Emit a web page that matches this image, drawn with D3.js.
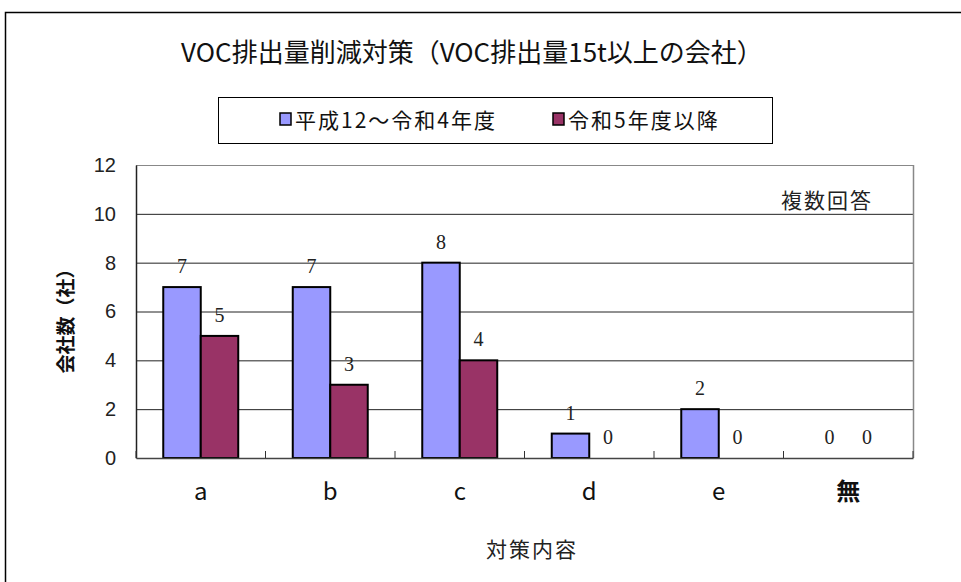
<!DOCTYPE html>
<html><head><meta charset="utf-8">
<script src="https://cdn.jsdelivr.net/npm/d3@7"></script>
<style>body{margin:0;background:#fff}svg{display:block}</style>
</head><body>
<script>
const categories = ["a","b","c","d","e","無"];
const seriesNames = ["平成12～令和4年度","令和5年度以降"];
const series1 = [7,7,8,1,2,0];
const series2 = [5,3,4,0,0,0];
const yTicks = [0,2,4,6,8,10,12];
const colors = ["#9999FF","#993366"];

const W = 961, H = 582;
const svg = d3.select("body").append("svg").attr("width",W).attr("height",H);
const jp = "'Noto Sans CJK JP', 'Liberation Sans', sans-serif";

// outer frame
svg.append("rect").attr("x",5.5).attr("y",12.5).attr("width",1000).attr("height",1000)
  .attr("fill","none").attr("stroke","#000").attr("stroke-width",1.5);

const m = {l:136, t:165, r:913, b:458};
const x = d3.scaleBand().domain(categories).range([m.l,m.r]).paddingInner(0).paddingOuter(0);
const xi = d3.scaleBand().domain([0,1]).range([0,x.bandwidth()]).paddingInner(0).paddingOuter(0.727);
const y = d3.scaleLinear().domain([0,12]).range([m.b,m.t]);

// gridlines
svg.append("g").selectAll("line").data(yTicks.filter(d=>d>0)).join("line")
  .attr("x1",m.l).attr("x2",m.r).attr("y1",d=>y(d)+0.5).attr("y2",d=>y(d)+0.5)
  .attr("stroke",d=>d===12?"#888":"#222").attr("stroke-width",1);
// right border
svg.append("line").attr("x1",m.r+0.5).attr("x2",m.r+0.5).attr("y1",m.t).attr("y2",m.b)
  .attr("stroke","#888").attr("stroke-width",1.5);

// y axis
const yAxis = svg.append("g").attr("transform",`translate(${m.l},0)`)
  .call(d3.axisLeft(y).tickValues(yTicks).tickSize(0).tickPadding(20));
yAxis.select(".domain").attr("stroke","#222").attr("stroke-width",1.5);
yAxis.selectAll("text").attr("font-family","'Liberation Sans', Arial, sans-serif")
  .attr("font-size",20).attr("fill","#222");

// bars
const data = categories.map((c,i)=>({c, v:[series1[i],series2[i]]}));
const g = svg.append("g").selectAll("g").data(data).join("g")
  .attr("transform",d=>`translate(${x(d.c)},0)`);
g.selectAll("rect").data(d=>d.v.map((v,k)=>({v,k})).filter(e=>e.v>0)).join("rect")
  .attr("x",e=>xi(e.k)).attr("width",xi.bandwidth())
  .attr("y",e=>y(e.v)).attr("height",e=>y(0)-y(e.v))
  .attr("fill",e=>colors[e.k]).attr("stroke","#000").attr("stroke-width",2);
g.selectAll("text").data(d=>d.v.map((v,k)=>({v,k}))).join("text")
  .attr("x",e=>xi(e.k)+xi.bandwidth()/2).attr("y",e=>y(e.v)-14)
  .attr("text-anchor","middle").attr("font-family","'Liberation Serif', 'DejaVu Serif', serif")
  .attr("font-size",20).attr("fill","#222").text(e=>e.v);

// x axis
const xAxis = svg.append("g").attr("transform",`translate(0,${m.b})`)
  .call(d3.axisBottom(x).tickSize(0).tickPadding(25));
xAxis.select(".domain").attr("stroke","#444").attr("stroke-width",1.5);
xAxis.selectAll("text").attr("font-family",jp).attr("font-size",24).attr("fill","#111")
  .attr("font-weight",d=>d==="無"?"bold":"normal");
// boundary ticks (inward)
svg.append("g").selectAll("line").data(d3.range(categories.length+1)).join("line")
  .attr("x1",i=>m.l+i*x.bandwidth()).attr("x2",i=>m.l+i*x.bandwidth())
  .attr("y1",m.b).attr("y2",m.b-7).attr("stroke","#333").attr("stroke-width",1);

// axis titles
svg.append("text").attr("transform",`translate(73,${(m.t+m.b)/2+5}) rotate(-90)`)
  .attr("text-anchor","middle").attr("font-family",jp).attr("font-weight","bold")
  .attr("font-size",19).attr("fill","#111").text("会社数（社）");
svg.append("text").attr("x",532).attr("y",557).attr("text-anchor","middle")
  .attr("font-family",jp).attr("font-size",21).attr("letter-spacing",2).attr("fill","#222").text("対策内容");

// title
svg.append("text").attr("x",472).attr("y",62).attr("text-anchor","middle")
  .attr("font-family",jp).attr("font-size",26).attr("fill","#111")
  .text("VOC排出量削減対策（VOC排出量15t以上の会社）");

// note
svg.append("text").attr("x",827).attr("y",208).attr("text-anchor","middle")
  .attr("font-family",jp).attr("font-size",21).attr("letter-spacing",2).attr("fill","#222").text("複数回答");

// legend
svg.append("rect").attr("x",218.5).attr("y",97.5).attr("width",554).attr("height",46)
  .attr("fill","#fff").attr("stroke","#000").attr("stroke-width",1);
const legX = [280, 553];
const leg = svg.append("g").selectAll("g").data(seriesNames).join("g")
  .attr("transform",(d,i)=>`translate(${legX[i]},113)`);
leg.append("rect").attr("width",11).attr("height",12)
  .attr("fill",(d,i)=>colors[i]).attr("stroke","#000").attr("stroke-width",1.5);
leg.append("text").attr("x",15).attr("y",15).attr("font-family",jp).attr("font-size",21)
  .attr("letter-spacing",2).attr("fill","#111").text(d=>d);
</script>
</body></html>
